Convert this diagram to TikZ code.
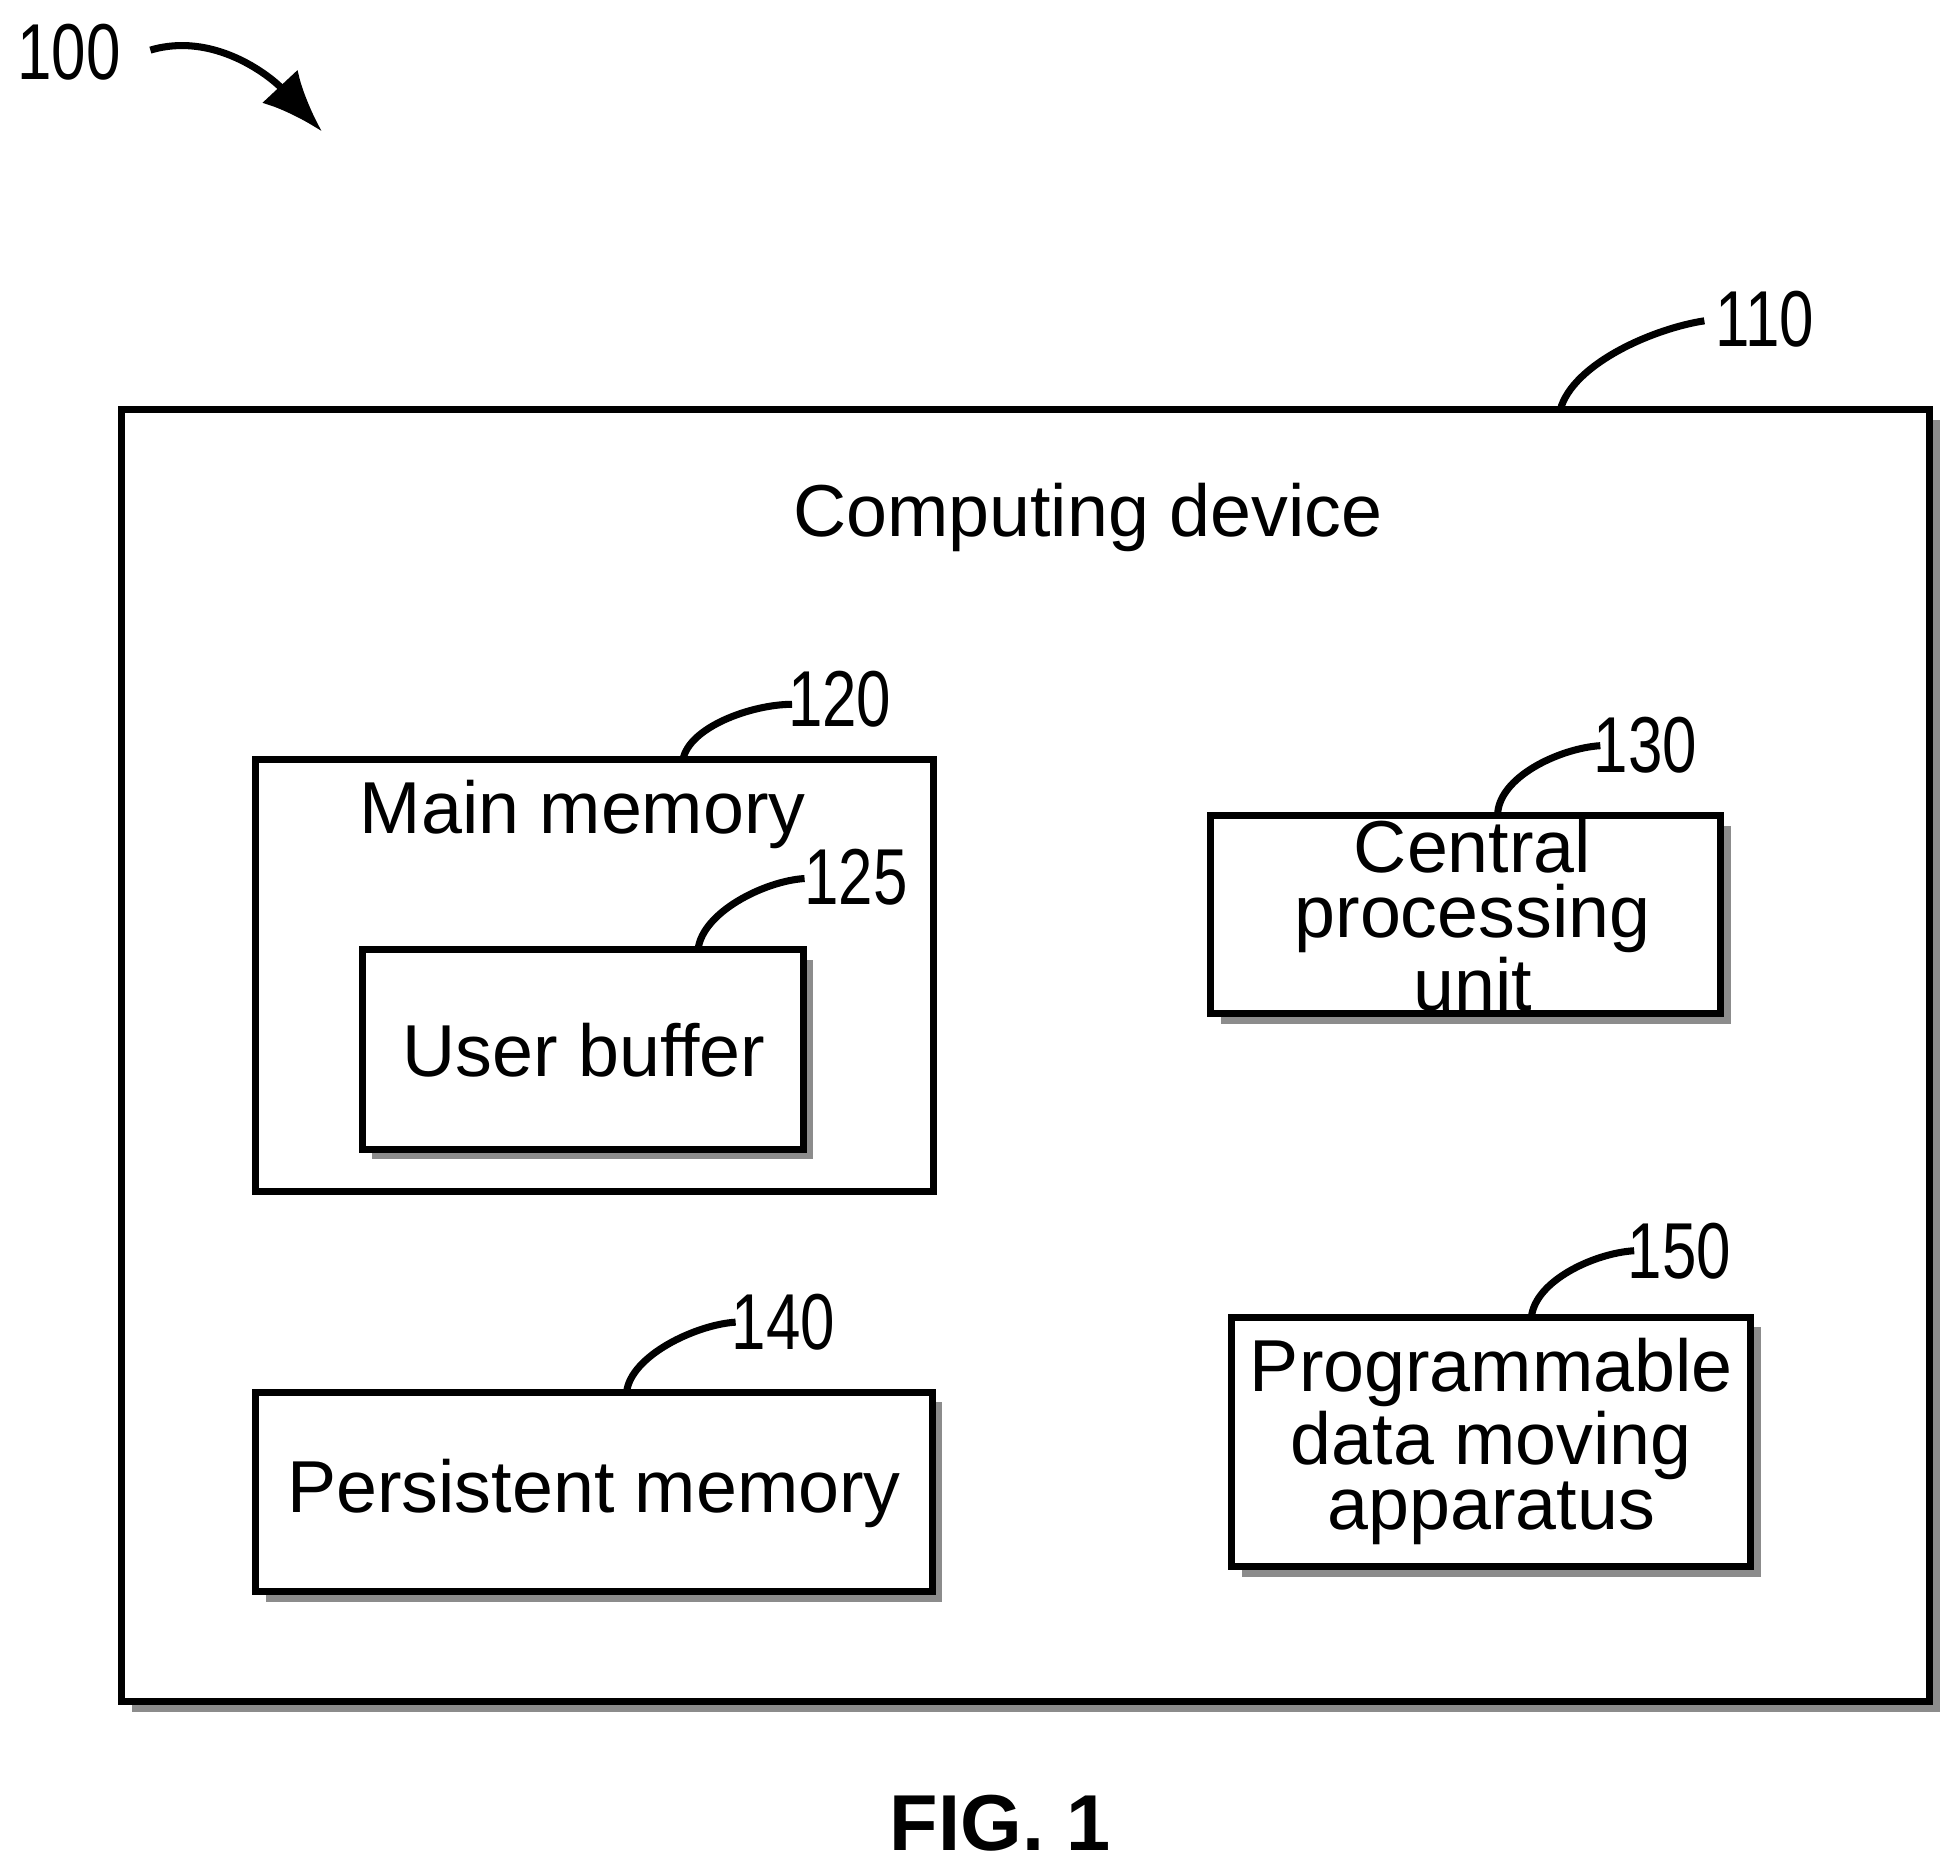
\documentclass[tikz,border=0pt]{standalone}
\usepackage{fontspec}
\setmainfont{Liberation Sans}
\usetikzlibrary{arrows.meta}
\begin{document}
\begin{tikzpicture}[x=0.01cm,y=-0.01cm,
 box/.style={draw,line width=1.6pt,fill=white},
 sh/.style={fill=black!45},
 txt/.style={font=\fontsize{16.7}{14.8}\selectfont,align=center,inner sep=0},
 lab/.style={font=\fontsize{18}{18}\selectfont,xscale=0.78,inner sep=0},
 lead/.style={line width=1.6pt}]
\useasboundingbox (0,0) rectangle (1560,1490);
% outer
\fill[sh] (105,335) rectangle (1548,1366);
\draw[box] (97,327) rectangle (1540,1358);
\node[txt] (cd) at (868,413) {Computing device};
% main memory
\draw[box] (204,606) rectangle (745,951);
\node[txt] (mm) at (465,650) {Main memory};
\fill[sh] (297,766) rectangle (649,925);
\draw[box] (289,758) rectangle (641,917);
\node[txt] (ub) at (466,838) {User buffer};
% cpu
\fill[sh] (974,659) rectangle (1381,817);
\draw[box] (966,651) rectangle (1373,809);
\node[txt] (cpu) at (1175,730) {Central\\processing\\unit};
% persistent
\fill[sh] (212,1119) rectangle (752,1278);
\draw[box] (204,1111) rectangle (744,1270);
\node[txt] (pm) at (474,1192) {Persistent memory};
% pdma
\fill[sh] (991,1059) rectangle (1405,1258);
\draw[box] (983,1051) rectangle (1397,1250);
\node[txt] (pd) at (1190,1150) {Programmable\\data moving\\apparatus};
% labels
\node[lab] (l100) at (55,42) {100};
\node[lab] (l110) at (1408,255) {110};
\node[lab] (l120) at (670,558) {120};
\node[lab] (l125) at (683,700) {125};
\node[lab] (l130) at (1313,595) {130};
\node[lab] (l140) at (625,1055) {140};
\node[lab] (l150) at (1340,998) {150};
\coordinate (a100s) at (120,40);
\coordinate (a100e) at (257,105);
\draw[lead,-{Latex[length=14pt,width=11pt]}] (a100s) .. controls (170,25) and (215,60) .. (a100e);
\draw[lead] (1245,327) .. controls (1255,290) and (1320,262) .. (1360,256);
\draw[lead] (545,606) .. controls (550,580) and (600,562) .. (632,562);
\draw[lead] (557,758) .. controls (560,728) and (610,703) .. (642,701);
\draw[lead] (1195,651) .. controls (1195,620) and (1245,597) .. (1277,595);
\draw[lead] (500,1111) .. controls (503,1082) and (555,1057) .. (587,1055);
\draw[lead] (1222,1051) .. controls (1225,1022) and (1272,1000) .. (1304,998);
\node[font=\fontsize{18}{18}\selectfont\bfseries,inner sep=0] (fig) at (798,1455) {FIG. 1};
\end{tikzpicture}
\end{document}
